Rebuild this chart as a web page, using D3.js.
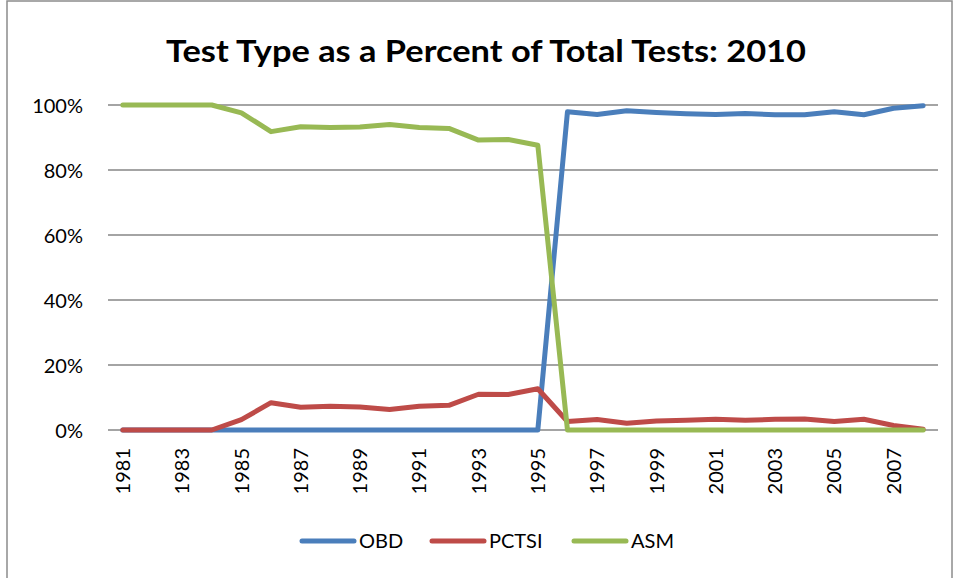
<!DOCTYPE html>
<html>
<head>
<meta charset="utf-8">
<script src="https://cdn.jsdelivr.net/npm/d3@7/dist/d3.min.js"></script>
<style>
html,body{margin:0;padding:0;background:#fff;}
svg{display:block;}
text{font-family:Lato,"Open Sans","Liberation Sans",sans-serif;}
</style>
</head>
<body>
<svg id="chart" width="956" height="578"></svg>
<script>
const years = ["1981","1982","1983","1984","1985","1986","1987","1988","1989","1990","1991","1992","1993","1994","1995","1996","1997","1998","1999","2000","2001","2002","2003","2004","2005","2006","2007","2008"];
const obd   = [0,0,0,0,0,0,0,0,0,0,0,0,0,0,0,97.9,97.1,98.2,97.7,97.3,97.1,97.4,97.0,97.0,97.9,97.0,99.0,99.8];
const pctsi = [0,0,0,0,3.2,8.4,7.0,7.3,7.1,6.3,7.3,7.6,11.0,10.9,12.7,2.6,3.2,2.1,2.8,3.0,3.3,3.0,3.3,3.4,2.6,3.3,1.4,0.2];
const asm   = [100,100,100,100,97.6,91.8,93.3,93.1,93.2,94.0,93.1,92.8,89.2,89.4,87.6,0,0,0,0,0,0,0,0,0,0,0,0,0];
const yTicks = [0,20,40,60,80,100];
const seriesNames = ["OBD","PCTSI","ASM"];
const seriesColors = ["#4A7EBB","#BE4B48","#98B954"];
const title = "Test Type as a Percent of Total Tests: 2010";

const svg = d3.select("#chart");
// outer border
svg.append("rect").attr("x",7).attr("y",1).attr("width",945).attr("height",582)
  .attr("fill","none").attr("stroke","#8c8c8c").attr("stroke-width",1.5);

const x = d3.scaleBand().domain(years).range([108,938]);
const y = d3.scaleLinear().domain([0,100]).range([430,105]);

// gridlines
svg.append("g").selectAll("line").data(yTicks).join("line")
  .attr("x1",108).attr("x2",938)
  .attr("y1",d=>y(d)).attr("y2",d=>y(d))
  .attr("stroke","#868686").attr("stroke-width",1.5);

// y labels
const yAxis = d3.axisLeft(y).tickValues(yTicks).tickFormat(d=>d+"%").tickSize(0).tickPadding(0);
const gy = svg.append("g").attr("transform","translate(83,0)").call(yAxis);
gy.select(".domain").remove();
gy.selectAll("text").attr("font-size",20).attr("fill","#000").attr("dy","0.36em")
  .style("font-family","Lato,'Open Sans',sans-serif");

// x labels
const xAxis = d3.axisBottom(x).tickValues(years.filter((d,i)=>i%2===0)).tickSize(0).tickPadding(0);
const gx = svg.append("g").attr("transform","translate(0,430)").call(xAxis);
gx.select(".domain").remove();
gx.selectAll("text").attr("font-size",20).attr("fill","#000")
  .attr("transform","rotate(-90)")
  .attr("text-anchor","end").attr("x",-18).attr("y",0).attr("dy","0.36em")
  .style("font-family","Lato,'Open Sans',sans-serif");

// lines
const data = [obd,pctsi,asm];
const line = d3.line().x((d,i)=>x(years[i])+x.bandwidth()/2).y(d=>y(d));
const drawOrder = [0,1,2];
drawOrder.forEach(k=>{
  svg.append("path").datum(data[k]).attr("d",line)
    .attr("fill","none").attr("stroke",seriesColors[k]).attr("stroke-width",5)
    .attr("stroke-linejoin","round").attr("stroke-linecap","round");
});

// title
svg.append("text").attr("x",486).attr("y",62).attr("text-anchor","middle")
  .attr("font-size",30).attr("font-weight","bold").attr("fill","#000")
  .attr("textLength",640).attr("lengthAdjust","spacingAndGlyphs")
  .text(title);

// legend
const legX = [300,430,572];
const lg = svg.append("g");
seriesNames.forEach((n,i)=>{
  lg.append("line").attr("x1",legX[i]+2).attr("x2",legX[i]+54).attr("y1",541).attr("y2",541)
    .attr("stroke",seriesColors[i]).attr("stroke-width",5).attr("stroke-linecap","round");
  lg.append("text").attr("x",legX[i]+59).attr("y",541).attr("dy","0.36em")
    .attr("font-size",20).attr("fill","#000").text(n);
});
</script>
</body>
</html>
